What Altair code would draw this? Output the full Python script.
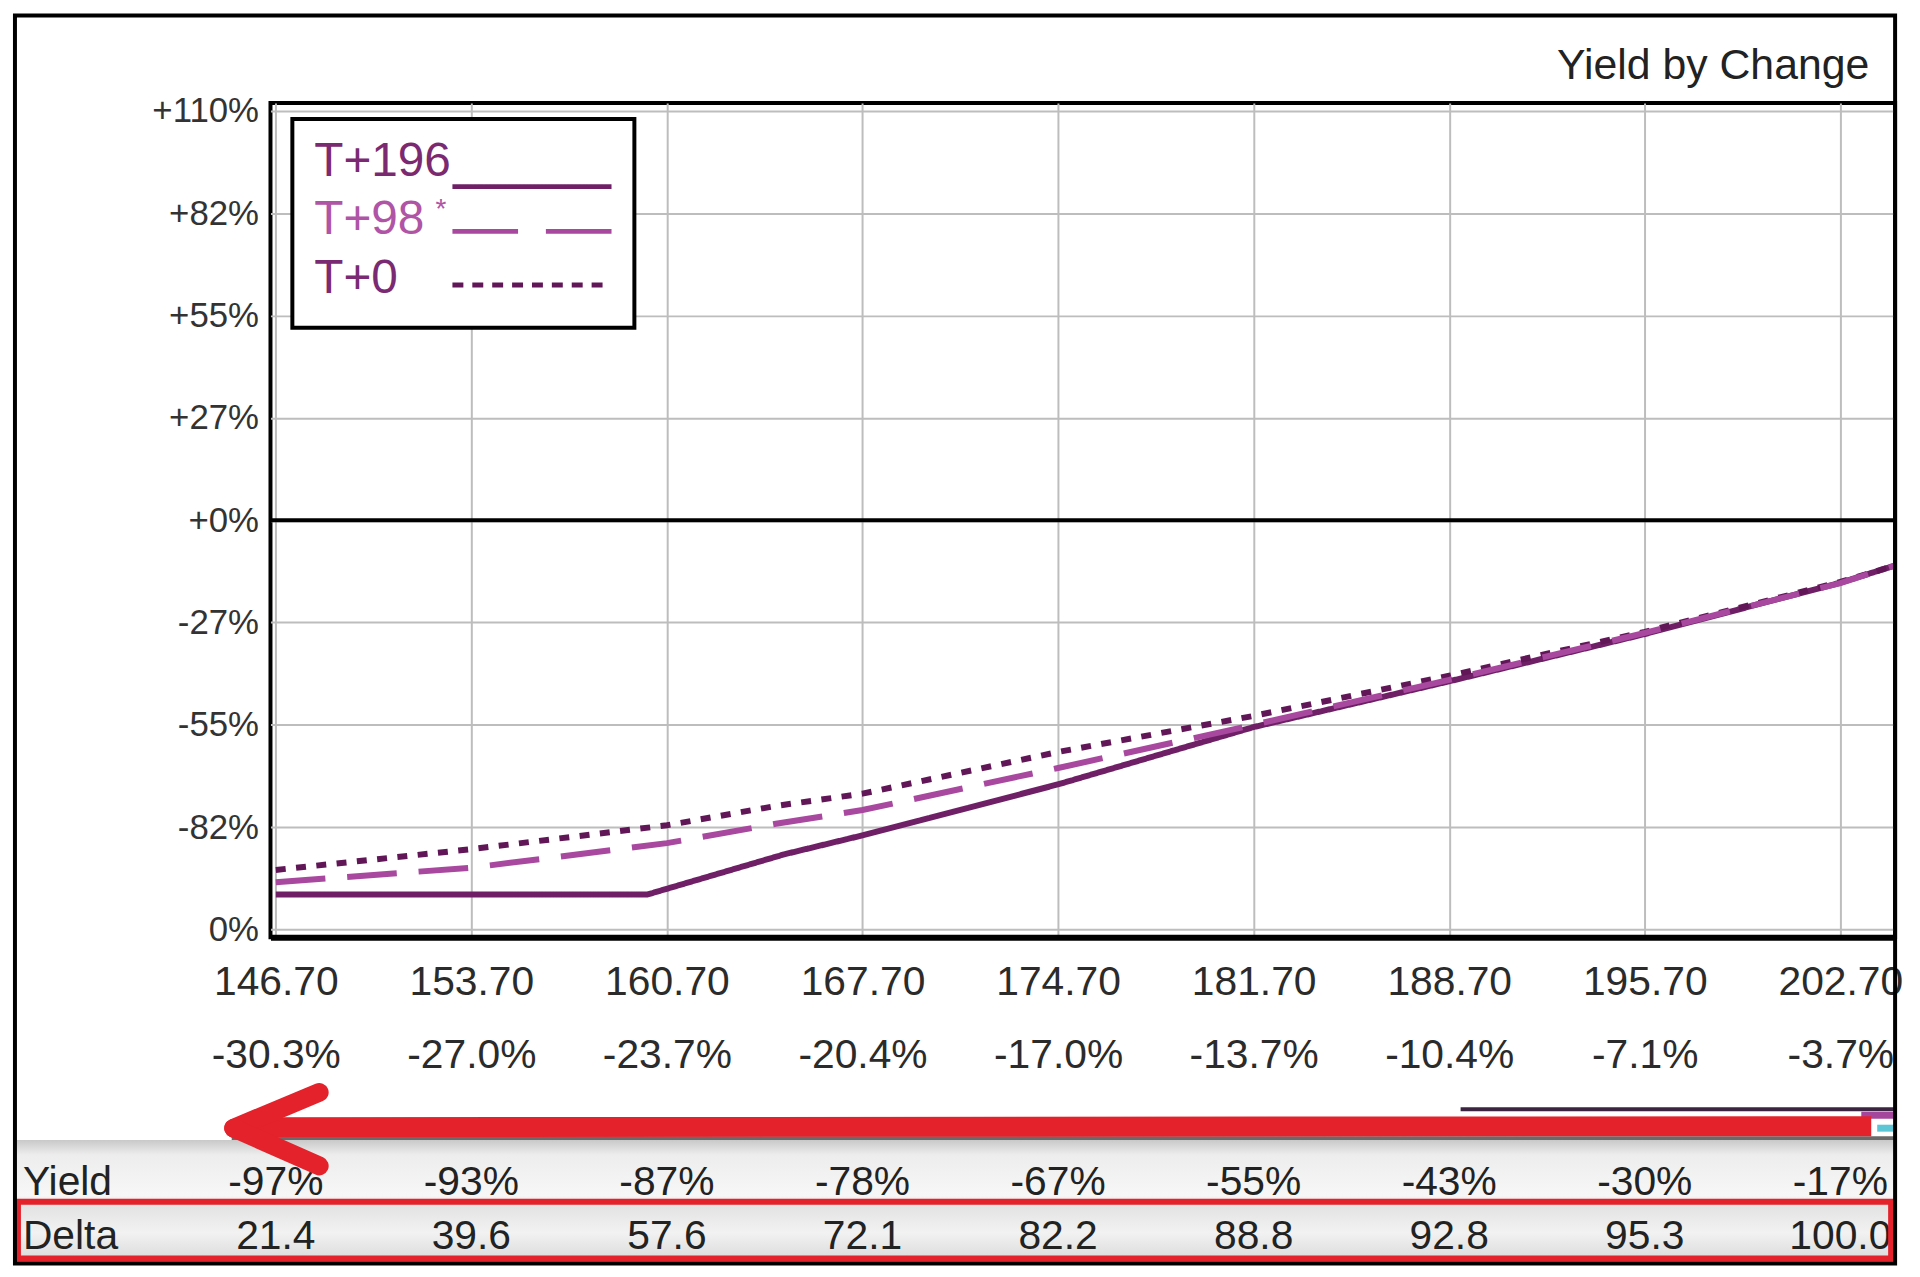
import json
import altair as alt
import pandas as pd

# ---------------- data ----------------
strikes = [146.7, 153.7, 160.7, 167.7, 174.7, 181.7, 188.7, 195.7, 202.7]
strike_labels = ["146.70", "153.70", "160.70", "167.70", "174.70",
                 "181.70", "188.70", "195.70", "202.70"]
move_labels = ["-30.3%", "-27.0%", "-23.7%", "-20.4%", "-17.0%",
               "-13.7%", "-10.4%", "-7.1%", "-3.7%"]
yield_row = ["-97%", "-93%", "-87%", "-78%", "-67%", "-55%", "-43%", "-30%", "-17%"]
delta_row = ["21.4", "39.6", "57.6", "72.1", "82.2", "88.8", "92.8", "95.3", "100.0"]

y_ticks = [110, 82.5, 55, 27.5, 0, -27.5, -55, -82.5, -110]
y_tick_labels = ["+110%", "+82%", "+55%", "+27%", "+0%", "-27%", "-55%", "-82%", "0%"]

chart_title = "Yield by Change"
series_names = ["T+196", "T+98 *", "T+0"]
legend_texts = ["T+196", "T+98", "T+0"]
series_colors = ["#6e1f66", "#a8489f", "#611757"]
label_colors = ["#7b2a72", "#b054a6", "#7a2a72"]
series_dashes = [[1, 0], [50, 22], [10, 10.5]]
legend_dashes = [[1, 0], [66, 28], [11, 9]]

t196_price = [146.7, 160.0, 164.9, 167.7, 174.7, 181.7, 188.7, 195.7, 202.7, 204.65]
t196_yield = [-100.6, -100.6, -89.8, -84.7, -71.0, -55.6, -43.3, -30.6, -16.8, -12.2]

t98_price = [146.7, 153.7, 160.7, 164.6, 167.7, 174.7, 181.7, 188.7, 195.7, 202.7, 204.65]
t98_yield = [-97.3, -93.4, -86.8, -81.6, -77.9, -66.6, -55.0, -42.9, -30.3, -16.9, -12.2]

t0_price = [146.7, 153.6, 160.7, 164.6, 167.7, 174.7, 181.7, 188.7, 195.7, 202.7, 204.65]
t0_yield = [-94.0, -88.5, -82.0, -76.8, -73.5, -62.3, -52.6, -41.8, -30.0, -16.6, -12.2]

rows = []
for name, px, yl in [("T+196", t196_price, t196_yield),
                     ("T+0", t0_price, t0_yield),
                     ("T+98 *", t98_price, t98_yield)]:
    for p, v in zip(px, yl):
        rows.append({"series": name, "price": p, "yield": v})
lines_df = pd.DataFrame(rows)

table_df = pd.DataFrame({"price": strikes, "yield_txt": yield_row, "delta_txt": delta_row})
one = pd.DataFrame({"k": [0]})

FONT = "Liberation Sans"
NARROW = "Liberation Sans Narrow, Arial Narrow, Liberation Sans"

x_label_expr = ("[" + ",".join(f"['{a}','{b}']" for a, b in zip(strike_labels, move_labels))
                + "][indexof(" + json.dumps(strikes) + ", datum.value)]")
y_label_expr = ("[" + ",".join(f"'{t}'" for t in y_tick_labels)
                + "][indexof(" + json.dumps(y_ticks) + ", datum.value)]")

x_enc = alt.X(
    "price:Q",
    scale=alt.Scale(domain=[146.51, 204.66], nice=False, zero=False),
    axis=alt.Axis(values=strikes, labelExpr=x_label_expr, title=None,
                  grid=True, gridColor="#bdbdbd", gridWidth=2,
                  domain=True, domainColor="black", domainWidth=6,
                  ticks=False, tickSize=0, labelFontSize=41, labelFont=FONT,
                  labelColor="#2b2b2b", labelPadding=26, labelLineHeight=73,
                  labelOverlap=False, labelFlush=False, labelAlign="center"),
)
y_enc = alt.Y(
    "yield:Q",
    scale=alt.Scale(domain=[-112.1, 112.1], nice=False, zero=False),
    axis=alt.Axis(values=y_ticks, labelExpr=y_label_expr, title=None,
                  grid=True, gridColor="#bdbdbd", gridWidth=2,
                  domain=False, ticks=False, tickSize=0, labelFontSize=35,
                  labelFont=FONT, labelColor="#333333", labelPadding=12,
                  labelOverlap=False),
)

color_enc = alt.Color("series:N", scale=alt.Scale(domain=series_names, range=series_colors),
                      legend=None)
dash_enc = alt.StrokeDash("series:N", scale=alt.Scale(domain=series_names, range=series_dashes),
                          legend=None)

lines = alt.Chart(lines_df).mark_line(strokeWidth=6).encode(
    x=x_enc, y=y_enc, color=color_enc, strokeDash=dash_enc
)

zero_rule = alt.Chart(one).mark_rule(color="black", strokeWidth=4).encode(y=alt.datum(0))

title_mark = alt.Chart(one).mark_text(
    text=chart_title, font=FONT, fontSize=43, color="#222222",
    align="right", baseline="alphabetic"
).encode(x=alt.value(1608), y=alt.value(-24))

# ---------------- legend box (drawn as marks) ----------------
legend_layers = [
    alt.Chart(one).mark_rect(fill="white", stroke="black", strokeWidth=4).encode(
        x=alt.value(22), x2=alt.value(366), y=alt.value(16), y2=alt.value(226))
]
label_y = [59, 118, 177]
line_y = [84, 129, 183]
for i, name in enumerate(legend_texts):
    legend_layers.append(
        alt.Chart(one).mark_text(text=name, font=FONT, fontSize=48, color=label_colors[i],
                                 align="left", baseline="middle").encode(
            x=alt.value(44), y=alt.value(label_y[i])))
    legend_layers.append(
        alt.Chart(one).mark_rule(color=series_colors[i], strokeWidth=5,
                                 strokeDash=legend_dashes[i]).encode(
            x=alt.value(183), x2=alt.value(343), y=alt.value(line_y[i]), y2=alt.value(line_y[i])))
legend_layers.append(
    alt.Chart(one).mark_text(text="*", font=FONT, fontSize=28, color=label_colors[1],
                             align="left", baseline="middle").encode(
        x=alt.value(166), y=alt.value(108)))

# ---------------- bottom panel (decorations + table) ----------------
band_grad = alt.Gradient(
    gradient="linear", x1=0, x2=0, y1=0, y2=1,
    stops=[alt.GradientStop(color="#c9c9c9", offset=0),
           alt.GradientStop(color="#ededed", offset=0.12),
           alt.GradientStop(color="#f7f7f7", offset=0.45),
           alt.GradientStop(color="#e2e2e2", offset=0.52),
           alt.GradientStop(color="#f2f2f2", offset=0.75),
           alt.GradientStop(color="#d8d8d8", offset=1)],
)
band = alt.Chart(one).mark_rect(fill=band_grad).encode(
    x=alt.value(-255), x2=alt.value(1634), y=alt.value(1043), y2=alt.value(1167))

gray_line = alt.Chart(one).mark_rule(color="#6a6a6a", strokeWidth=4).encode(
    x=alt.value(-39), x2=alt.value(1634), y=alt.value(1041), y2=alt.value(1041))
dark_line = alt.Chart(one).mark_rule(color="#3a2442", strokeWidth=4).encode(
    x=alt.value(1197), x2=alt.value(1634), y=alt.value(1012), y2=alt.value(1012))
magenta_bit = alt.Chart(one).mark_rule(color="#a4479c", strokeWidth=7).encode(
    x=alt.value(1600), x2=alt.value(1634), y=alt.value(1018), y2=alt.value(1018))
cyan_bit = alt.Chart(one).mark_rule(color="#5cc6d6", strokeWidth=7).encode(
    x=alt.value(1616), x2=alt.value(1634), y=alt.value(1031), y2=alt.value(1031))

arrow_color = "#e3222b"
shaft = alt.Chart(one).mark_rule(color=arrow_color, strokeWidth=20).encode(
    x=alt.value(-34), x2=alt.value(1610), y=alt.value(1030), y2=alt.value(1029))
arm_up = alt.Chart(one).mark_rule(color=arrow_color, strokeWidth=19, strokeCap="round").encode(
    x=alt.value(-37), x2=alt.value(49), y=alt.value(1031), y2=alt.value(995))
arm_dn = alt.Chart(one).mark_rule(color=arrow_color, strokeWidth=19, strokeCap="round").encode(
    x=alt.value(-37), x2=alt.value(49), y=alt.value(1031), y2=alt.value(1069))

yield_text = alt.Chart(table_df).mark_text(
    font=NARROW, fontSize=41, color="#222222", baseline="middle", align="center"
).encode(x=x_enc, y=alt.value(1086), text="yield_txt:N")
delta_text = alt.Chart(table_df).mark_text(
    font=NARROW, fontSize=41, color="#222222", baseline="middle", align="center"
).encode(x=x_enc, y=alt.value(1141), text="delta_txt:N")

row_yield = alt.Chart(one).mark_text(
    text="Yield", font=NARROW, fontSize=41, color="#222222", baseline="middle", align="left"
).encode(x=alt.value(-249), y=alt.value(1086))
row_delta = alt.Chart(one).mark_text(
    text="Delta", font=NARROW, fontSize=41, color="#222222", baseline="middle", align="left"
).encode(x=alt.value(-249), y=alt.value(1141))

red_box = alt.Chart(one).mark_rect(fill="transparent", stroke=arrow_color, strokeWidth=6).encode(
    x=alt.value(-254), x2=alt.value(1630), y=alt.value(1105), y2=alt.value(1162))

frame = alt.Chart(one).mark_rect(fill="transparent", stroke="black", strokeWidth=4).encode(
    x=alt.value(-257), x2=alt.value(1634), y=alt.value(-88), y2=alt.value(1167))

chart = alt.layer(
    band, gray_line, dark_line, magenta_bit, cyan_bit,
    yield_text, delta_text, row_yield, row_delta, red_box,
    shaft, arm_up, arm_dn,
    zero_rule, lines, *legend_layers, title_mark, frame,
).properties(
    width=1634, height=839,
    padding={"left": 5, "top": 2, "right": 5, "bottom": 5},
).configure(font=FONT).configure_view(
    stroke="black", strokeWidth=4
)

chart.save("out.html", embed_options={"renderer": "svg", "actions": False})
